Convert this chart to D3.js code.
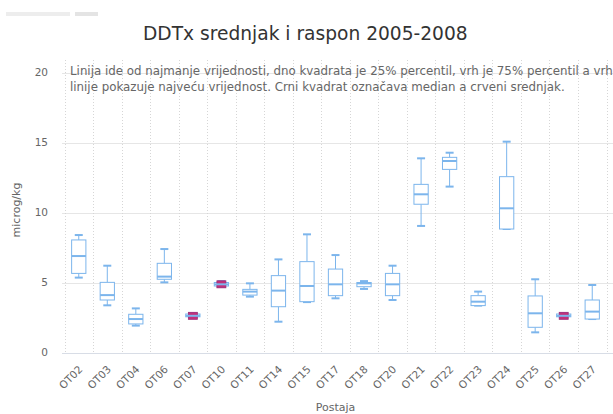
<!DOCTYPE html>
<html>
<head>
<meta charset="utf-8">
<script src="https://cdn.jsdelivr.net/npm/d3@7"></script>
<style>
  html, body { margin: 0; padding: 0; background: #fff; }
  svg { display: block; font-family: "DejaVu Sans", Verdana, sans-serif; }
</style>
</head>
<body>
<svg id="chart" width="613" height="414"></svg>
<script>
// DDTx box plots per station, 2005-2008 (microg/kg)
const stations = ["OT02","OT03","OT04","OT06","OT07","OT10","OT11","OT14","OT15","OT17",
                  "OT18","OT20","OT21","OT22","OT23","OT24","OT25","OT26","OT27"];
const lowVals    = [5.35, 3.37, 1.92, 5.01, 2.50, 4.70, 3.99, 2.20, 3.60, 3.87, 4.54, 3.75,  9.04, 11.85, 3.35,  8.82, 1.44, 2.50, 2.39];
const q1Vals     = [5.65, 3.75, 2.04, 5.23, 2.55, 4.75, 4.10, 3.27, 3.63, 4.06, 4.70, 4.06, 10.59, 13.08, 3.35,  8.82, 1.80, 2.55, 2.39];
const medianVals = [6.89, 4.10, 2.39, 5.42, 2.62, 4.87, 4.35, 4.42, 4.75, 4.87, 4.94, 4.87, 11.30, 13.68, 3.63, 10.30, 2.80, 2.62, 2.92];
const q3Vals     = [8.04, 5.01, 2.73, 6.37, 2.75, 5.00, 4.51, 5.49, 6.49, 5.96, 5.00, 5.65, 12.01, 13.94, 4.06, 12.56, 4.04, 2.75, 3.75];
const highVals   = [8.39, 6.20, 3.15, 7.39, 2.80, 5.10, 4.94, 6.65, 8.44, 6.96, 5.10, 6.20, 13.87, 14.27, 4.35, 15.06, 5.23, 2.80, 4.82];
// stations whose box collapses; their centre is marked with a square
const markedStations = ["OT07", "OT10", "OT26"];
const yTicks = [0, 5, 10, 15, 20];

const titleText = "DDTx srednjak i raspon 2005-2008";
const noteLines = [
  "Linija ide od najmanje vrijednosti, dno kvadrata je 25% percentil, vrh je 75% percentil a vrh",
  "linije pokazuje najveću vrijednost. Crni kvadrat označava median a crveni srednjak."
];

const rows = stations.map((s, i) => ({
  name: s, low: lowVals[i], q1: q1Vals[i], median: medianVals[i], q3: q3Vals[i], high: highVals[i],
  marked: markedStations.includes(s)
}));

const svg = d3.select("#chart");
const plot = { left: 62, right: 613, top: 72.5, bottom: 352.5 };

const x = d3.scaleBand().domain(stations).range([64.5, 606.5]);
const y = d3.scaleLinear().domain([0, 20]).range([plot.bottom, plot.top]);

const boxColor = "#7cb5ec";
const markColor = "#c2307a";
const textGray = "#666666";

// scale a text element's font so that it spans the given width
function fitWidth(sel, baseSize, target) {
  sel.style("font-size", baseSize + "px");
  const w = sel.node().getComputedTextLength();
  sel.style("font-size", (baseSize * target / w).toFixed(2) + "px");
}

// faint bar in the top corner
svg.append("rect").attr("x", 6).attr("y", 12).attr("width", 64).attr("height", 4).attr("fill", "#ededed");
svg.append("rect").attr("x", 75).attr("y", 12).attr("width", 23).attr("height", 4).attr("fill", "#e4e4e4");

// horizontal grid
svg.append("g").selectAll("line").data(yTicks.filter(t => t > 0)).join("line")
  .attr("x1", plot.left).attr("x2", plot.right)
  .attr("y1", d => Math.round(y(d)) + 0.5).attr("y2", d => Math.round(y(d)) + 0.5)
  .attr("stroke", "#e6e6e6").attr("stroke-width", 1);

// vertical dotted grid at category boundaries
const bounds = stations.map(s => x(s)).concat([x.range()[1]]);
svg.append("g").selectAll("line").data(bounds).join("line")
  .attr("x1", d => Math.round(d) + 0.5).attr("x2", d => Math.round(d) + 0.5)
  .attr("y1", 60).attr("y2", plot.bottom)
  .attr("stroke", "#d6d6d6").attr("stroke-dasharray", "1,2");

// x axis line
svg.append("line")
  .attr("x1", plot.left).attr("x2", plot.right)
  .attr("y1", Math.round(y(0)) + 0.5).attr("y2", Math.round(y(0)) + 0.5)
  .attr("stroke", "#d8dde6");

// y axis labels
const yAxis = d3.axisLeft(y).tickValues(yTicks).tickSize(0).tickPadding(0);
const gy = svg.append("g").attr("transform", "translate(48,0)").call(yAxis);
gy.select(".domain").remove();
gy.selectAll("text").attr("fill", textGray).style("font-size", "10.5px")
  .style("font-family", "'DejaVu Sans', sans-serif");

// x axis labels
const xAxis = d3.axisBottom(x).tickSize(0).tickPadding(0);
const gx = svg.append("g").attr("transform", `translate(0,${plot.bottom})`).call(xAxis);
gx.select(".domain").remove();
gx.selectAll("text")
  .attr("fill", textGray).style("font-size", "10.5px")
  .style("font-family", "'DejaVu Sans', sans-serif")
  .attr("text-anchor", "end")
  .attr("dy", 0).attr("y", 0)
  .attr("transform", "translate(4.5,17.5) rotate(-45)");

// boxes
const bw = x.bandwidth() * 0.5;
const g = svg.append("g").selectAll("g").data(rows).join("g")
  .attr("transform", d => `translate(${x(d.name) + x.bandwidth() / 2},0)`);

g.append("line").attr("x1", 0).attr("x2", 0)
  .attr("y1", d => y(d.high)).attr("y2", d => y(d.q3))
  .attr("stroke", boxColor);
g.append("line").attr("x1", 0).attr("x2", 0)
  .attr("y1", d => y(d.q1)).attr("y2", d => y(d.low))
  .attr("stroke", boxColor);
g.append("line").attr("x1", -4).attr("x2", 4)
  .attr("y1", d => y(d.high)).attr("y2", d => y(d.high))
  .attr("stroke", boxColor).attr("stroke-width", 2);
g.append("line").attr("x1", -4).attr("x2", 4)
  .attr("y1", d => y(d.low)).attr("y2", d => y(d.low))
  .attr("stroke", boxColor).attr("stroke-width", 2);
g.append("rect")
  .attr("x", -bw / 2).attr("width", bw)
  .attr("y", d => y(d.q3)).attr("height", d => y(d.q1) - y(d.q3))
  .attr("fill", "#fff").attr("stroke", boxColor);
g.filter(d => d.marked).append("rect")
  .attr("x", -4.5).attr("width", 9)
  .attr("y", d => y(d.median) - 3.5).attr("height", 7)
  .attr("fill", markColor).attr("stroke", "#9a2a78").attr("stroke-width", 0.8);
g.append("line").attr("x1", -bw / 2).attr("x2", bw / 2)
  .attr("y1", d => y(d.median)).attr("y2", d => y(d.median))
  .attr("stroke", boxColor).attr("stroke-width", 2);

// title
const title = svg.append("text").attr("x", 143).attr("y", 40)
  .attr("fill", "#333333").text(titleText);
fitWidth(title, 16, 325);

// note
const notes = svg.append("g").selectAll("text").data(noteLines).join("text")
  .attr("x", 70).attr("y", (d, i) => 74.5 + i * 16.5)
  .attr("fill", textGray).text(d => d);
const noteSize = (() => {
  const second = d3.select(notes.nodes()[1]);
  fitWidth(second, 11, 495);
  return second.style("font-size");
})();
notes.style("font-size", noteSize);

// axis titles
svg.append("text").attr("x", (x.range()[0] + x.range()[1]) / 2).attr("y", 411)
  .attr("text-anchor", "middle").attr("fill", textGray).style("font-size", "11px").text("Postaja");
svg.append("text").attr("transform", "translate(20,210) rotate(-90)")
  .attr("text-anchor", "middle").attr("fill", textGray).style("font-size", "11px").text("microg/kg");
</script>
</body>
</html>
